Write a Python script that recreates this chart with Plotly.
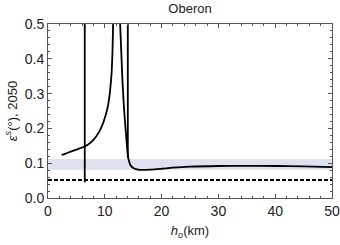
import plotly.graph_objects as go

# main curve, branch left of first resonance
b1_x = [2.4, 3, 4, 5, 6, 7, 8, 9, 9.5, 10, 10.5, 10.8, 11.0, 11.2, 11.35, 11.46]
b1_y = [0.124, 0.127, 0.133, 0.139, 0.145, 0.153, 0.167, 0.19, 0.207, 0.23, 0.26, 0.29, 0.32, 0.36, 0.42, 0.5]
# main curve, branch right of first resonance
b2_x = [12.7, 12.9, 13.1, 13.3, 13.5, 13.7, 13.9, 14.05, 14.2, 14.5, 15, 15.5, 16.2, 17, 18, 20, 22, 25, 30, 35, 40, 45, 50]
b2_y = [0.5, 0.42, 0.34, 0.28, 0.23, 0.19, 0.15, 0.125, 0.11, 0.095, 0.086, 0.083, 0.081, 0.081, 0.0815, 0.084, 0.087, 0.090, 0.092, 0.0925, 0.092, 0.091, 0.089]
# vertical lines (x position, lower end, upper end)
vline_x = [6.47, 14.05]
vline_lo = [0.045, 0.115]
vline_hi = [0.5, 0.5]
# observed band and dashed reference level
band_lo, band_hi = 0.081, 0.112
ref_level = 0.052
x_range = [0, 50]
y_range = [0, 0.5]

fig = go.Figure()
fig.add_trace(go.Scatter(x=[x_range[0], x_range[1], x_range[1], x_range[0], x_range[0]],
                         y=[band_lo, band_lo, band_hi, band_hi, band_lo],
                         fill="toself", fillcolor="rgb(221,227,238)", line=dict(width=0),
                         mode="lines", hoverinfo="skip"))
fig.add_trace(go.Scatter(x=x_range, y=[ref_level, ref_level], mode="lines",
                         line=dict(color="black", width=2, dash="4px,2px")))
for vx, lo, hi in zip(vline_x, vline_lo, vline_hi):
    fig.add_trace(go.Scatter(x=[vx, vx], y=[lo, hi], mode="lines",
                             line=dict(color="black", width=1.8)))
fig.add_trace(go.Scatter(x=b1_x, y=b1_y, mode="lines", line=dict(color="black", width=1.8, shape="spline")))
fig.add_trace(go.Scatter(x=b2_x, y=b2_y, mode="lines", line=dict(color="black", width=1.8, shape="spline")))

axis_common = dict(showgrid=False, zeroline=False, showline=True, linecolor="#555", linewidth=1,
                   mirror="allticks", ticks="inside", ticklen=4, tickcolor="#555",
                   tickfont=dict(size=14, color="#222"))
fig.update_xaxes(range=x_range, dtick=10, tick0=0,
                 minor=dict(dtick=2, ticks="inside", ticklen=2, tickcolor="#555"),
                 title=dict(text="<i>h<sub>o</sub></i>(km)", font=dict(size=13, color="#222"), standoff=8),
                 **axis_common)
fig.update_yaxes(range=y_range, dtick=0.1, tick0=0, tickformat=".1f",
                 minor=dict(dtick=0.02, ticks="inside", ticklen=2, tickcolor="#555"),
                 title=dict(text="<i>ε<sup>s</sup></i>(°), 2050", font=dict(size=13, color="#222"), standoff=4),
                 **axis_common)
fig.update_layout(
    width=340, height=245,
    margin=dict(l=48, r=8, t=24, b=47, autoexpand=False),
    paper_bgcolor="white", plot_bgcolor="white",
    showlegend=False,
    font=dict(family="Liberation Sans, Arial, sans-serif", color="#222"),
    title=dict(text="Oberon", x=0.5, xref="paper", y=0.965, yanchor="middle",
               font=dict(size=13, color="#222")),
)
fig.write_html("out.html", config={"displayModeBar": False},
               post_script="document.body.style.margin='0';document.body.style.overflow='hidden';")
